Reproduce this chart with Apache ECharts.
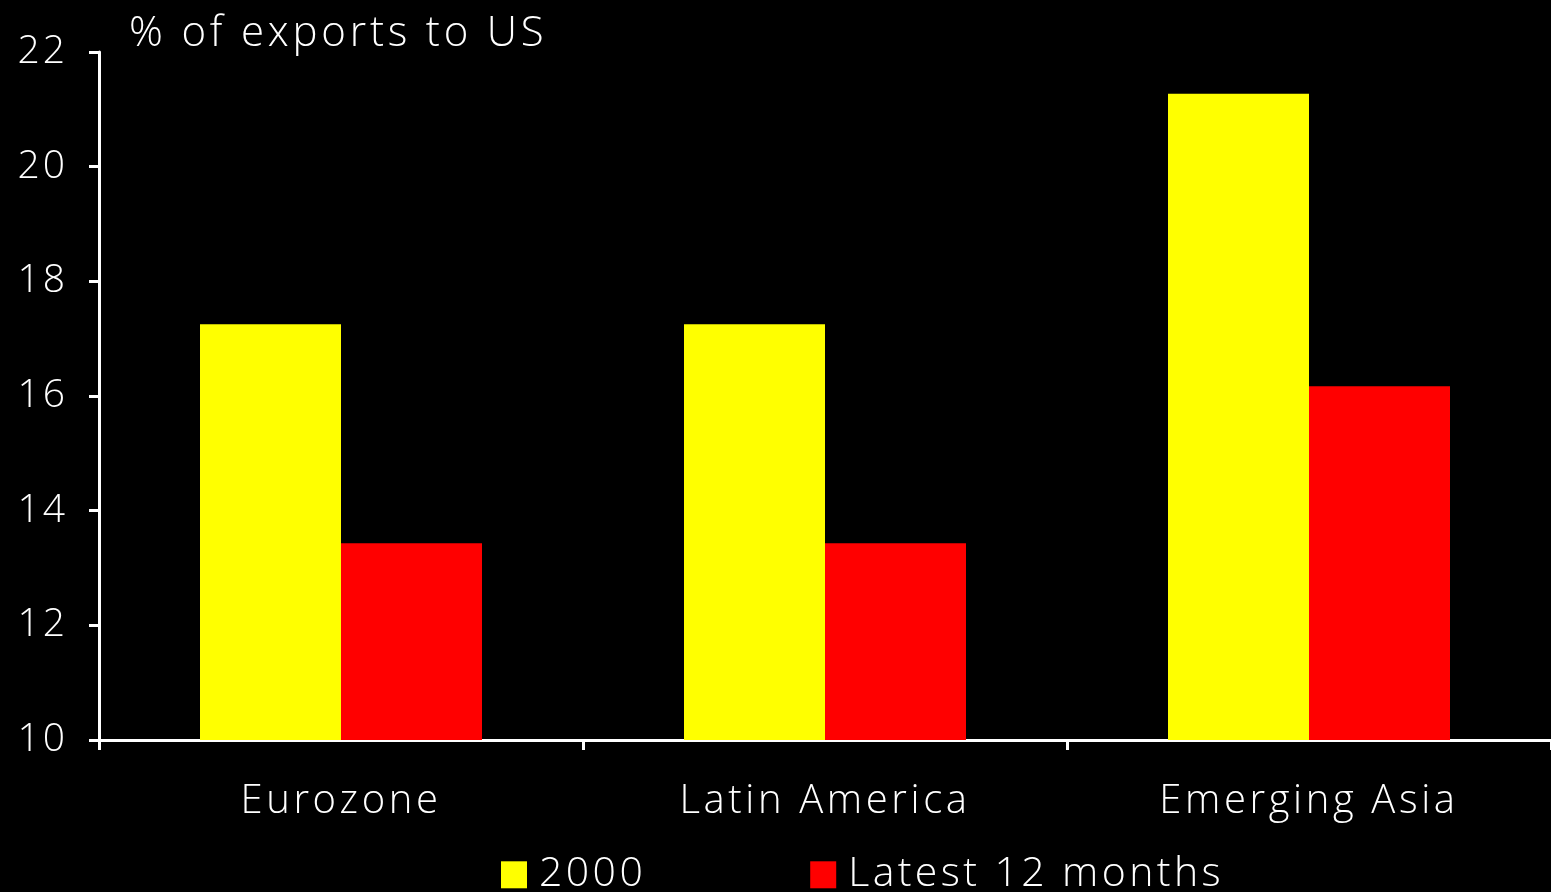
<!DOCTYPE html>
<html>
<head>
<meta charset="utf-8">
<style>
  html, body { margin: 0; padding: 0; background: #000; }
  #chart { width: 1551px; height: 892px; }
</style>
<script src="https://cdn.jsdelivr.net/npm/echarts@6/dist/echarts.min.js"></script>
</head>
<body>
<div id="chart"></div>
<script>
// Share of exports going to the US, by region
const regions = ['Eurozone', 'Latin America', 'Emerging Asia'];
const share2000 = [17.25, 17.25, 21.27];
const shareLatest = [13.43, 13.43, 16.17];
const seriesNames = ['2000', 'Latest 12 months'];
const yTicks = [10, 12, 14, 16, 18, 20, 22];

const FONT = 'Open Sans';
const WEIGHT = 300;

// Tracked-out lettering: canvas letterSpacing chosen per font size,
// applied to both drawing and measuring so layout stays consistent.
const TRACKING = { '42px': '3.8px', '41px': '3.4px', '40px': '3.6px', '39px': '3px' };
(function () {
  const proto = CanvasRenderingContext2D.prototype;
  function track(ctx) {
    const m = /(\d+(?:\.\d+)?px)/.exec(ctx.font || '');
    ctx.letterSpacing = (m && TRACKING[m[1]]) || '0px';
  }
  ['fillText', 'strokeText', 'measureText'].forEach(function (fn) {
    const orig = proto[fn];
    proto[fn] = function () {
      track(this);
      return orig.apply(this, arguments);
    };
  });
})();

const chart = echarts.init(document.getElementById('chart'), null, { renderer: 'canvas' });

chart.setOption({
  backgroundColor: '#000000',
  animation: false,
  title: {
    text: '% of exports to US',
    left: 124,
    top: 6,
    textStyle: { color: '#ffffff', fontFamily: FONT, fontWeight: WEIGHT, fontSize: 42 }
  },
  legend: {
    data: seriesNames,
    bottom: -10,
    left: 496,
    itemWidth: 26,
    itemHeight: 27,
    itemGap: 164,
    icon: 'rect',
    textStyle: { color: '#ffffff', fontFamily: FONT, fontWeight: WEIGHT, fontSize: 41, padding: [0, 0, 0, 7] }
  },
  // plot area runs slightly past the right edge of the canvas
  grid: { left: 99, width: 1457, top: 52, bottom: 152, containLabel: false },
  xAxis: {
    type: 'category',
    data: regions,
    axisLine: { lineStyle: { color: '#ffffff', width: 3 } },
    axisTick: { show: true, length: 10, lineStyle: { color: '#ffffff', width: 3 } },
    axisLabel: { color: '#ffffff', fontFamily: FONT, fontWeight: WEIGHT, fontSize: 40, margin: 40 }
  },
  yAxis: {
    type: 'value',
    min: yTicks[0],
    max: yTicks[yTicks.length - 1],
    interval: 2,
    splitLine: { show: false },
    axisLine: { show: true, lineStyle: { color: '#ffffff', width: 3 } },
    axisTick: { show: true, length: 10, lineStyle: { color: '#ffffff', width: 3 } },
    axisLabel: { color: '#ffffff', fontFamily: FONT, fontWeight: WEIGHT, fontSize: 39, margin: 31 }
  },
  series: [
    {
      name: seriesNames[0],
      type: 'bar',
      data: share2000,
      barWidth: 141,
      barGap: '0%',
      itemStyle: { color: '#ffff00' }
    },
    {
      name: seriesNames[1],
      type: 'bar',
      data: shareLatest,
      barWidth: 141,
      barGap: '0%',
      itemStyle: { color: '#ff0000' }
    }
  ]
});
</script>
</body>
</html>
